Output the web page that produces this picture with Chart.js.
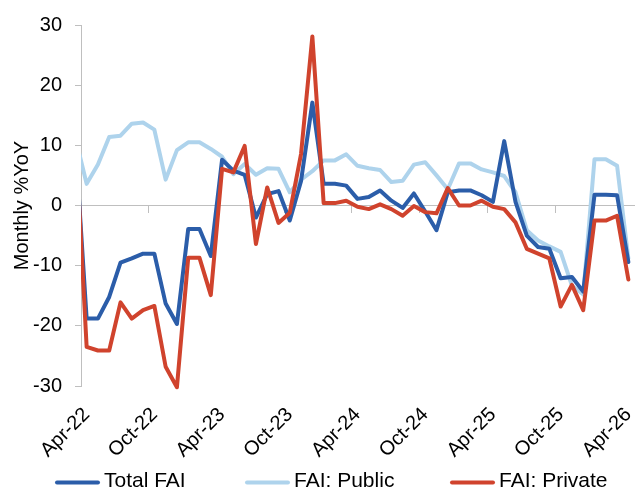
<!DOCTYPE html>
<html>
<head>
<meta charset="utf-8">
<title>Fixed asset investment, monthly %YoY</title>
<script src="https://cdn.jsdelivr.net/npm/chart.js@4.4.1/dist/chart.umd.min.js"></script>
<style>
  html, body { margin: 0; padding: 0; background: #ffffff; }
  #wrap { width: 635px; height: 491px; position: relative; }
</style>
</head>
<body>
<div id="wrap"><canvas id="chart" width="635" height="491"></canvas></div>
<script>
// Months on the category axis; the first month sits just left of the visible range
const months = [
  'Mar-22', 'Apr-22', 'May-22', 'Jun-22', 'Jul-22', 'Aug-22', 'Sep-22', 'Oct-22', 'Nov-22', 'Dec-22',
  'Jan-23', 'Feb-23', 'Mar-23', 'Apr-23', 'May-23', 'Jun-23', 'Jul-23', 'Aug-23', 'Sep-23', 'Oct-23', 'Nov-23', 'Dec-23',
  'Jan-24', 'Feb-24', 'Mar-24', 'Apr-24', 'May-24', 'Jun-24', 'Jul-24', 'Aug-24', 'Sep-24', 'Oct-24', 'Nov-24', 'Dec-24',
  'Jan-25', 'Feb-25', 'Mar-25', 'Apr-25', 'May-25', 'Jun-25', 'Jul-25', 'Aug-25', 'Sep-25', 'Oct-25', 'Nov-25', 'Dec-25',
  'Jan-26', 'Feb-26', 'Mar-26', 'Apr-26'
];

// Labelled months on the horizontal axis
const xTickLabels = ['Apr-22', 'Oct-22', 'Apr-23', 'Oct-23', 'Apr-24', 'Oct-24', 'Apr-25', 'Oct-25', 'Apr-26'];

// Monthly %YoY
const totalFAI = [
  10.6, -18.8, -18.8, -15.2, -9.5, -8.8, -8.0, -8.0, -16.3, -19.7,
  -3.9, -3.9, -8.4, 7.6, 5.8, 5.1, -2.0, 1.9, 2.4, -2.5, 4.1, 17.1,
  3.6, 3.6, 3.3, 1.1, 1.4, 2.5, 0.8, -0.4, 2.0, -1.0, -4.1, 2.2,
  2.5, 2.5, 1.7, 0.6, 10.7, 0.6, -5.0, -6.9, -7.2, -12.1, -11.9, -14.3,
  1.8, 1.8, 1.7, -9.4
];
const publicFAI = [
  11.3, 3.6, 6.8, 11.4, 11.6, 13.6, 13.8, 12.6, 4.3, 9.2,
  10.5, 10.5, 9.4, 8.1, 5.2, 6.9, 5.1, 6.2, 6.1, 2.2, 4.3, 5.7,
  7.5, 7.5, 8.5, 6.6, 6.2, 5.9, 3.9, 4.1, 6.8, 7.2, 5.0, 2.7,
  7.0, 7.0, 6.0, 5.5, 4.9, 2.2, -4.1, -5.8, -6.8, -7.7, -13.3, -14.8,
  7.7, 7.7, 6.6, -8.8
];
const privateFAI = [
  11.9, -23.5, -24.1, -24.1, -16.1, -18.8, -17.4, -16.7, -26.8, -30.2,
  -8.7, -8.7, -14.9, 6.1, 5.5, 9.9, -6.4, 3.0, -2.9, -1.2, 8.6, 28.1,
  0.4, 0.4, 0.8, -0.2, -0.6, 0.2, -0.6, -1.7, -0.1, -1.1, -1.3, 2.9,
  0.0, 0.0, 0.8, -0.2, -0.6, -2.8, -7.2, -8.0, -8.8, -16.8, -13.2, -17.4,
  -2.5, -2.5, -1.7, -12.3
];

const seriesNames = ['Total FAI', 'FAI: Public', 'FAI: Private'];
const seriesColors = ['#2B5DA9', '#AED3EC', '#D0432D'];

const FONT_FAMILY = '"Liberation Sans", Arial, Helvetica, sans-serif';
const TEXT_COLOR = '#000000';
const AXIS_GREY = '#BFBFBF';

// Series key drawn in one row under the axis labels
const keyStarts = [55, 245, 450];
const seriesKey = {
  id: 'seriesKey',
  afterDraw(chart) {
    const ctx = chart.ctx;
    const yLine = 482.5;
    ctx.save();
    ctx.font = '21px ' + FONT_FAMILY;
    ctx.textBaseline = 'middle';
    ctx.textAlign = 'left';
    chart.data.datasets.forEach((ds, i) => {
      const x = keyStarts[i];
      ctx.strokeStyle = ds.borderColor;
      ctx.lineWidth = 4;
      ctx.lineCap = 'round';
      ctx.beginPath();
      ctx.moveTo(x + 2, yLine);
      ctx.lineTo(x + 43, yLine);
      ctx.stroke();
      ctx.fillStyle = TEXT_COLOR;
      ctx.fillText(ds.label, x + 49, yLine - 1);
    });
    ctx.restore();
  }
};

const values = [totalFAI, publicFAI, privateFAI];
// Private drawn on top, then Total, then Public underneath
const drawOrder = [2, 3, 1];

new Chart(document.getElementById('chart'), {
  type: 'line',
  data: {
    labels: months,
    datasets: values.map((v, i) => ({
      label: seriesNames[i],
      data: v,
      borderColor: seriesColors[i],
      backgroundColor: seriesColors[i],
      order: drawOrder[i]
    }))
  },
  plugins: [seriesKey],
  options: {
    responsive: false,
    animation: false,
    devicePixelRatio: 1,
    layout: { padding: { top: 23, right: 1, bottom: 0, left: 0 } },
    elements: {
      line: { borderWidth: 4, tension: 0, borderJoinStyle: 'round', borderCapStyle: 'round', fill: false },
      point: { radius: 0, hoverRadius: 0 }
    },
    datasets: { line: { clip: { left: 0, right: 4, top: 4, bottom: 4 } } },
    plugins: {
      legend: { display: false },
      tooltip: { enabled: false }
    },
    scales: {
      x: {
        type: 'category',
        min: 'Apr-22',
        offset: true,
        position: 'bottom',
        grid: { display: false, drawTicks: false },
        border: { display: false },
        ticks: {
          autoSkip: false,
          minRotation: 45,
          maxRotation: 45,
          padding: 17,
          color: TEXT_COLOR,
          font: { family: FONT_FAMILY, size: 20 },
          callback(value) {
            const lbl = this.getLabelForValue(value);
            return xTickLabels.includes(lbl) ? lbl : '';
          }
        },
        afterFit(scale) {
          scale.height = 105;
          scale.paddingLeft = 0;
          scale.paddingRight = 0;
        }
      },
      xZero: {
        type: 'category',
        axis: 'x',
        min: 'Apr-22',
        offset: true,
        position: { y: 0 },
        ticks: { display: false },
        grid: {
          offset: true,
          drawOnChartArea: false,
          drawTicks: true,
          tickLength: 7,
          lineWidth: 1,
          color: (c) => (c.index !== undefined && c.index % 6 === 0) ? AXIS_GREY : 'rgba(0,0,0,0)'
        },
        border: { display: true, color: AXIS_GREY, width: 1 },
        afterFit(scale) {
          scale.paddingLeft = 0;
          scale.paddingRight = 0;
        }
      },
      y: {
        min: -30,
        max: 30,
        position: 'left',
        ticks: {
          stepSize: 10,
          padding: 13,
          color: TEXT_COLOR,
          font: { family: FONT_FAMILY, size: 20 }
        },
        grid: { drawOnChartArea: false, drawTicks: true, tickLength: 6, color: AXIS_GREY, lineWidth: 1 },
        border: { display: true, color: AXIS_GREY, width: 1 },
        title: {
          display: true,
          text: 'Monthly %YoY',
          color: TEXT_COLOR,
          font: { family: FONT_FAMILY, size: 20 },
          padding: { top: 10, bottom: 0 }
        },
        afterFit(scale) { scale.width = 81; }
      }
    }
  }
});
</script>
</body>
</html>
